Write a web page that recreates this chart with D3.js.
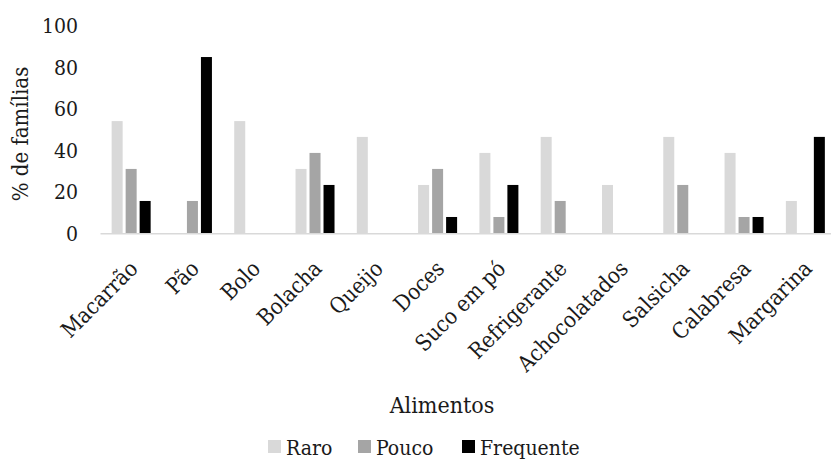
<!DOCTYPE html>
<html>
<head>
<meta charset="utf-8">
<script src="https://cdn.jsdelivr.net/npm/d3@7/dist/d3.min.js"></script>
<style>
  html, body { margin: 0; padding: 0; background: #fff; }
  svg { display: block; }
</style>
</head>
<body>
<svg id="chart" width="831" height="460"></svg>
<script>
// Food categories (x axis)
const categories = ["Macarrão", "Pão", "Bolo", "Bolacha", "Queijo", "Doces",
  "Suco em pó", "Refrigerante", "Achocolatados", "Salsicha", "Calabresa", "Margarina"];

// Share of families (%) by consumption frequency
const raro      = [53.8, 0,    53.8, 30.8, 46.2, 23.1, 38.5, 46.2, 23.1, 46.2, 38.5, 15.4];
const pouco     = [30.8, 15.4, 0,    38.5, 0,    30.8, 7.7,  15.4, 0,    23.1, 7.7,  0];
const frequente = [15.4, 84.6, 0,    23.1, 0,    7.7,  23.1, 0,    0,    0,    7.7,  46.2];

const seriesNames = ["Raro", "Pouco", "Frequente"];
const seriesValues = [raro, pouco, frequente];
const yTicks = [0, 20, 40, 60, 80, 100];

const colors = { "Raro": "#d9d9d9", "Pouco": "#a5a5a5", "Frequente": "#000000" };
const FONT = "'DejaVu Serif Condensed', 'DejaVu Serif', serif";

const svg = d3.select("#chart");

const x0 = d3.scaleBand().domain(categories).range([100.5, 836]).padding(0);
const bw = x0.bandwidth();
const x1 = d3.scaleBand().domain(seriesNames)
  .range([bw / 2 - 19.5, bw / 2 + 19.5]).paddingInner(3 / 14).paddingOuter(0);
const y = d3.scaleLinear().domain([0, 100]).range([233, 25]);

// Y axis labels only (no line, no ticks)
const yAxis = d3.axisLeft(y).tickValues(yTicks).tickSize(0).tickPadding(0);
const gy = svg.append("g").attr("transform", "translate(78,0)").call(yAxis);
gy.select(".domain").remove();
gy.selectAll("text").style("font-family", FONT).style("font-size", "21px")
  .attr("fill", "#1a1a1a").attr("dy", "0.36em").attr("x", 0);

// Bars
const groups = svg.append("g").selectAll("g")
  .data(categories)
  .join("g")
  .attr("transform", d => `translate(${x0(d)},0)`);

groups.selectAll("rect")
  .data((d, i) => seriesNames.map((s, k) => ({ s, v: seriesValues[k][i] })))
  .join("rect")
  .attr("x", d => x1(d.s))
  .attr("width", x1.bandwidth())
  .attr("y", d => y(d.v))
  .attr("height", d => y(0) - y(d.v))
  .attr("fill", d => colors[d.s]);

// Category axis
const xAxis = d3.axisBottom(x0).tickSize(0).tickPadding(0);
const gx = svg.append("g").attr("transform", `translate(0,${y(0)})`).call(xAxis);
gx.select(".domain").attr("stroke", "#d9d9d9").attr("stroke-width", 1.5)
  .attr("d", `M${x0.range()[0]},0.75H${x0.range()[1]}`);
gx.selectAll("text")
  .style("font-family", FONT)
  .style("font-size", "22px").attr("fill", "#1a1a1a")
  .attr("text-anchor", "end")
  .attr("dy", 0).attr("y", 0)
  .attr("transform", "translate(8,37) rotate(-45)");

// Axis titles
svg.append("text")
  .attr("transform", "translate(28,134) rotate(-90)")
  .attr("text-anchor", "middle")
  .style("font-family", FONT).style("font-size", "22px").attr("fill", "#1a1a1a")
  .text("% de famílias");

svg.append("text")
  .attr("x", 442).attr("y", 413)
  .attr("text-anchor", "middle")
  .style("font-family", FONT).style("font-size", "23px").attr("fill", "#1a1a1a")
  .text("Alimentos");

// Legend
const legendX = [268, 358, 462];
const legend = svg.append("g");
seriesNames.forEach((s, i) => {
  legend.append("rect")
    .attr("x", legendX[i]).attr("y", 440)
    .attr("width", 13).attr("height", 13)
    .attr("fill", colors[s]);
  legend.append("text")
    .attr("x", legendX[i] + 18).attr("y", 455)
    .style("font-family", FONT).style("font-size", "21px").attr("fill", "#1a1a1a")
    .text(s);
});
</script>
</body>
</html>
